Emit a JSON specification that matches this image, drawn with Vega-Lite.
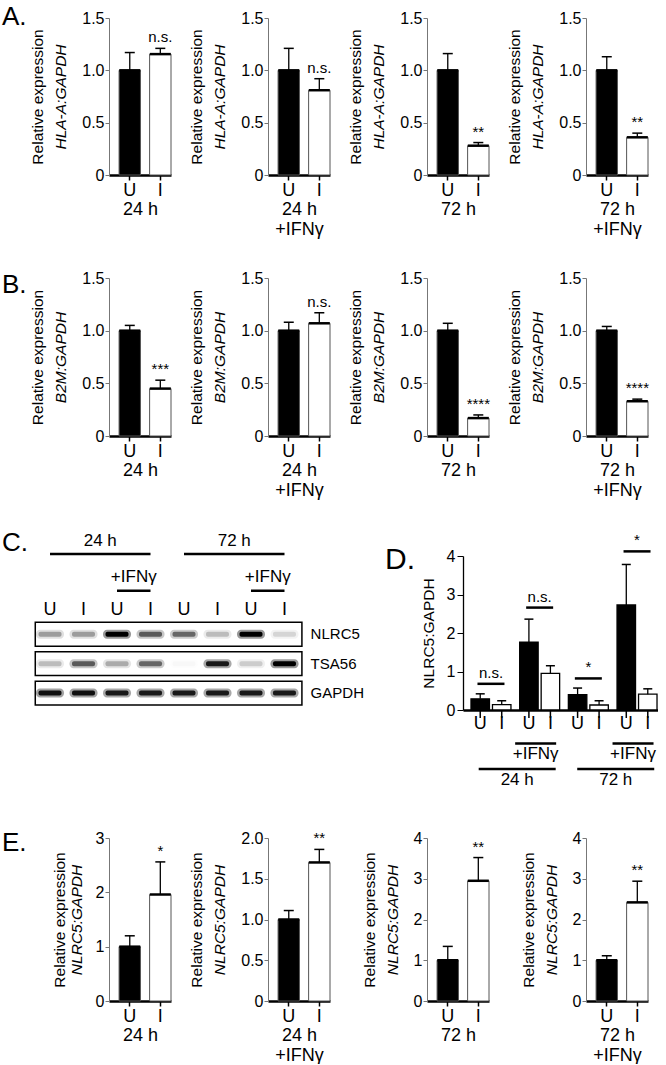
{
"$schema": "https://vega.github.io/schema/vega-lite/v6.json",
"padding": {"left": 2, "top": 4, "right": 0, "bottom": 0},
"autosize": {"type": "pad"},
"config": {
  "font": "Liberation Sans",
  "view": {"stroke": null},
  "tick": {"opacity": 1},
  "title": {"fontWeight": "normal", "color": "#000", "font": "Liberation Sans"},
  "axis": {"grid": false, "labelColor": "#000", "titleColor": "#000", "titleFontWeight": "normal", "labelFont": "Liberation Sans", "titleFont": "Liberation Sans"},
  "axisX": {"labelAngle": 0, "labelFontSize": 18, "titleFontSize": 18, "tickSize": 5, "tickColor": "#000", "tickWidth": 1.5, "domainColor": "#000", "domainWidth": 2.5, "labelPadding": 1, "titlePadding": 1, "titleLineHeight": 20},
  "axisY": {"titleFontSize": 15.5, "labelFontSize": 16, "tickSize": 4, "tickColor": "#777", "domainColor": "#777", "labelPadding": 1, "titlePadding": 13}
},
"datasets": {
  "lanes": [
    {"lane": 1, "c": "U", "t": "24 h", "ifn": ""},
    {"lane": 2, "c": "I", "t": "24 h", "ifn": ""},
    {"lane": 3, "c": "U", "t": "24 h", "ifn": "+IFNγ"},
    {"lane": 4, "c": "I", "t": "24 h", "ifn": "+IFNγ"},
    {"lane": 5, "c": "U", "t": "72 h", "ifn": ""},
    {"lane": 6, "c": "I", "t": "72 h", "ifn": ""},
    {"lane": 7, "c": "U", "t": "72 h", "ifn": "+IFNγ"},
    {"lane": 8, "c": "I", "t": "72 h", "ifn": "+IFNγ"}
  ],
  "bands": [
    {"p": "NLRC5", "lane": 1, "v": 0.3}, {"p": "NLRC5", "lane": 2, "v": 0.3}, {"p": "NLRC5", "lane": 3, "v": 1.0}, {"p": "NLRC5", "lane": 4, "v": 0.55},
    {"p": "NLRC5", "lane": 5, "v": 0.5}, {"p": "NLRC5", "lane": 6, "v": 0.2}, {"p": "NLRC5", "lane": 7, "v": 1.0}, {"p": "NLRC5", "lane": 8, "v": 0.12},
    {"p": "TSA56", "lane": 1, "v": 0.2}, {"p": "TSA56", "lane": 2, "v": 0.55}, {"p": "TSA56", "lane": 3, "v": 0.25}, {"p": "TSA56", "lane": 4, "v": 0.5},
    {"p": "TSA56", "lane": 5, "v": 0.02}, {"p": "TSA56", "lane": 6, "v": 0.85}, {"p": "TSA56", "lane": 7, "v": 0.15}, {"p": "TSA56", "lane": 8, "v": 1.0},
    {"p": "GAPDH", "lane": 1, "v": 0.9}, {"p": "GAPDH", "lane": 2, "v": 0.9}, {"p": "GAPDH", "lane": 3, "v": 0.85}, {"p": "GAPDH", "lane": 4, "v": 0.85},
    {"p": "GAPDH", "lane": 5, "v": 0.85}, {"p": "GAPDH", "lane": 6, "v": 0.85}, {"p": "GAPDH", "lane": 7, "v": 0.85}, {"p": "GAPDH", "lane": 8, "v": 0.85}
  ],
  "prots": [{"p": "NLRC5"}, {"p": "TSA56"}, {"p": "GAPDH"}]
},
"concat": [
{
 "width": 62, "height": 157,
 "title": {"text": "A.", "anchor": "start", "frame": "group", "fontSize": 26, "offset": 0, "dx": -107, "dy": 41, "baseline": "alphabetic"},
 "data": {"values": [{"c": "U", "m": 1.0, "hi": 1.17, "s": ""}, {"c": "I", "m": 1.155, "hi": 1.21, "s": "n.s."}]},
 "encoding": {"x": {"field": "c", "type": "nominal", "sort": ["U", "I"], "scale": {"paddingInner": 0.3, "paddingOuter": 0.165, "align": 1}, "axis": {"title": ["24 h"]}}},
 "layer": [
  {"mark": {"type": "bar", "stroke": "#555", "strokeWidth": 1}, "encoding": {"y": {"field": "m", "type": "quantitative", "scale": {"domain": [0, 1.5], "nice": false}, "axis": {"title": "HLA-A:GAPDH", "titleFontStyle": "italic", "values": [0, 0.5, 1, 1.5], "labelExpr": "datum.value == 0 ? '0' : format(datum.value, '.1f')"}}, "fill": {"field": "c", "type": "nominal", "scale": {"domain": ["U", "I"], "range": ["#000", "#fff"]}, "legend": null}}},
  {"mark": {"type": "rule", "color": "#000", "strokeWidth": 1.3}, "encoding": {"y": {"field": "m", "type": "quantitative", "axis": null}, "y2": {"field": "hi"}}},
  {"mark": {"type": "tick", "orient": "horizontal", "size": 10, "thickness": 1.5, "color": "#000"}, "encoding": {"y": {"field": "hi", "type": "quantitative", "axis": null}}},
  {"mark": {"type": "tick", "orient": "horizontal", "size": 21, "thickness": 2.5, "color": "#000"}, "encoding": {"y": {"field": "m", "type": "quantitative", "axis": null}}},
  {"mark": {"type": "text", "dy": -11, "fontSize": 15}, "encoding": {"y": {"field": "hi", "type": "quantitative", "axis": {"title": "Relative expression", "orient": "left", "titlePadding": 36, "values": [0, 0.5, 1, 1.5], "labelExpr": "datum.value == 0 ? '0' : format(datum.value, '.1f')", "labelOpacity": 0, "tickOpacity": 0, "domain": false}}, "text": {"field": "s"}}}
 ],
 "resolve": {"axis": {"y": "independent"}}
},
{
 "width": 62, "height": 157,
 "data": {"values": [{"c": "U", "m": 1.0, "hi": 1.21, "s": ""}, {"c": "I", "m": 0.81, "hi": 0.92, "s": "n.s."}]},
 "encoding": {"x": {"field": "c", "type": "nominal", "sort": ["U", "I"], "scale": {"paddingInner": 0.3, "paddingOuter": 0.165, "align": 1}, "axis": {"title": ["24 h", "+IFNγ"]}}},
 "layer": [
  {"mark": {"type": "bar", "stroke": "#555", "strokeWidth": 1}, "encoding": {"y": {"field": "m", "type": "quantitative", "scale": {"domain": [0, 1.5], "nice": false}, "axis": {"title": "HLA-A:GAPDH", "titleFontStyle": "italic", "values": [0, 0.5, 1, 1.5], "labelExpr": "datum.value == 0 ? '0' : format(datum.value, '.1f')"}}, "fill": {"field": "c", "type": "nominal", "scale": {"domain": ["U", "I"], "range": ["#000", "#fff"]}, "legend": null}}},
  {"mark": {"type": "rule", "color": "#000", "strokeWidth": 1.3}, "encoding": {"y": {"field": "m", "type": "quantitative", "axis": null}, "y2": {"field": "hi"}}},
  {"mark": {"type": "tick", "orient": "horizontal", "size": 10, "thickness": 1.5, "color": "#000"}, "encoding": {"y": {"field": "hi", "type": "quantitative", "axis": null}}},
  {"mark": {"type": "tick", "orient": "horizontal", "size": 21, "thickness": 2.5, "color": "#000"}, "encoding": {"y": {"field": "m", "type": "quantitative", "axis": null}}},
  {"mark": {"type": "text", "dy": -11, "fontSize": 15}, "encoding": {"y": {"field": "hi", "type": "quantitative", "axis": {"title": "Relative expression", "orient": "left", "titlePadding": 36, "values": [0, 0.5, 1, 1.5], "labelExpr": "datum.value == 0 ? '0' : format(datum.value, '.1f')", "labelOpacity": 0, "tickOpacity": 0, "domain": false}}, "text": {"field": "s"}}}
 ],
 "resolve": {"axis": {"y": "independent"}}
},
{
 "width": 62, "height": 157,
 "data": {"values": [{"c": "U", "m": 1.0, "hi": 1.16, "s": ""}, {"c": "I", "m": 0.28, "hi": 0.31, "s": "**"}]},
 "encoding": {"x": {"field": "c", "type": "nominal", "sort": ["U", "I"], "scale": {"paddingInner": 0.3, "paddingOuter": 0.165, "align": 1}, "axis": {"title": ["72 h"]}}},
 "layer": [
  {"mark": {"type": "bar", "stroke": "#555", "strokeWidth": 1}, "encoding": {"y": {"field": "m", "type": "quantitative", "scale": {"domain": [0, 1.5], "nice": false}, "axis": {"title": "HLA-A:GAPDH", "titleFontStyle": "italic", "values": [0, 0.5, 1, 1.5], "labelExpr": "datum.value == 0 ? '0' : format(datum.value, '.1f')"}}, "fill": {"field": "c", "type": "nominal", "scale": {"domain": ["U", "I"], "range": ["#000", "#fff"]}, "legend": null}}},
  {"mark": {"type": "rule", "color": "#000", "strokeWidth": 1.3}, "encoding": {"y": {"field": "m", "type": "quantitative", "axis": null}, "y2": {"field": "hi"}}},
  {"mark": {"type": "tick", "orient": "horizontal", "size": 10, "thickness": 1.5, "color": "#000"}, "encoding": {"y": {"field": "hi", "type": "quantitative", "axis": null}}},
  {"mark": {"type": "tick", "orient": "horizontal", "size": 21, "thickness": 2.5, "color": "#000"}, "encoding": {"y": {"field": "m", "type": "quantitative", "axis": null}}},
  {"mark": {"type": "text", "dy": -11, "fontSize": 15}, "encoding": {"y": {"field": "hi", "type": "quantitative", "axis": {"title": "Relative expression", "orient": "left", "titlePadding": 36, "values": [0, 0.5, 1, 1.5], "labelExpr": "datum.value == 0 ? '0' : format(datum.value, '.1f')", "labelOpacity": 0, "tickOpacity": 0, "domain": false}}, "text": {"field": "s"}}}
 ],
 "resolve": {"axis": {"y": "independent"}}
},
{
 "width": 62, "height": 157,
 "data": {"values": [{"c": "U", "m": 1.0, "hi": 1.13, "s": ""}, {"c": "I", "m": 0.36, "hi": 0.40, "s": "**"}]},
 "encoding": {"x": {"field": "c", "type": "nominal", "sort": ["U", "I"], "scale": {"paddingInner": 0.3, "paddingOuter": 0.165, "align": 1}, "axis": {"title": ["72 h", "+IFNγ"]}}},
 "layer": [
  {"mark": {"type": "bar", "stroke": "#555", "strokeWidth": 1}, "encoding": {"y": {"field": "m", "type": "quantitative", "scale": {"domain": [0, 1.5], "nice": false}, "axis": {"title": "HLA-A:GAPDH", "titleFontStyle": "italic", "values": [0, 0.5, 1, 1.5], "labelExpr": "datum.value == 0 ? '0' : format(datum.value, '.1f')"}}, "fill": {"field": "c", "type": "nominal", "scale": {"domain": ["U", "I"], "range": ["#000", "#fff"]}, "legend": null}}},
  {"mark": {"type": "rule", "color": "#000", "strokeWidth": 1.3}, "encoding": {"y": {"field": "m", "type": "quantitative", "axis": null}, "y2": {"field": "hi"}}},
  {"mark": {"type": "tick", "orient": "horizontal", "size": 10, "thickness": 1.5, "color": "#000"}, "encoding": {"y": {"field": "hi", "type": "quantitative", "axis": null}}},
  {"mark": {"type": "tick", "orient": "horizontal", "size": 21, "thickness": 2.5, "color": "#000"}, "encoding": {"y": {"field": "m", "type": "quantitative", "axis": null}}},
  {"mark": {"type": "text", "dy": -11, "fontSize": 15}, "encoding": {"y": {"field": "hi", "type": "quantitative", "axis": {"title": "Relative expression", "orient": "left", "titlePadding": 36, "values": [0, 0.5, 1, 1.5], "labelExpr": "datum.value == 0 ? '0' : format(datum.value, '.1f')", "labelOpacity": 0, "tickOpacity": 0, "domain": false}}, "text": {"field": "s"}}}
 ],
 "resolve": {"axis": {"y": "independent"}}
},
{
 "width": 62, "height": 158,
 "title": {"text": "B.", "anchor": "start", "frame": "group", "fontSize": 26, "offset": 0, "dx": -107, "dy": 49, "baseline": "alphabetic"},
 "data": {"values": [{"c": "U", "m": 1.0, "hi": 1.05, "s": ""}, {"c": "I", "m": 0.45, "hi": 0.53, "s": "***"}]},
 "encoding": {"x": {"field": "c", "type": "nominal", "sort": ["U", "I"], "scale": {"paddingInner": 0.3, "paddingOuter": 0.165, "align": 1}, "axis": {"title": ["24 h"]}}},
 "layer": [
  {"mark": {"type": "bar", "stroke": "#555", "strokeWidth": 1}, "encoding": {"y": {"field": "m", "type": "quantitative", "scale": {"domain": [0, 1.5], "nice": false}, "axis": {"title": "B2M:GAPDH", "titleFontStyle": "italic", "values": [0, 0.5, 1, 1.5], "labelExpr": "datum.value == 0 ? '0' : format(datum.value, '.1f')"}}, "fill": {"field": "c", "type": "nominal", "scale": {"domain": ["U", "I"], "range": ["#000", "#fff"]}, "legend": null}}},
  {"mark": {"type": "rule", "color": "#000", "strokeWidth": 1.3}, "encoding": {"y": {"field": "m", "type": "quantitative", "axis": null}, "y2": {"field": "hi"}}},
  {"mark": {"type": "tick", "orient": "horizontal", "size": 10, "thickness": 1.5, "color": "#000"}, "encoding": {"y": {"field": "hi", "type": "quantitative", "axis": null}}},
  {"mark": {"type": "tick", "orient": "horizontal", "size": 21, "thickness": 2.5, "color": "#000"}, "encoding": {"y": {"field": "m", "type": "quantitative", "axis": null}}},
  {"mark": {"type": "text", "dy": -11, "fontSize": 15}, "encoding": {"y": {"field": "hi", "type": "quantitative", "axis": {"title": "Relative expression", "orient": "left", "titlePadding": 36, "values": [0, 0.5, 1, 1.5], "labelExpr": "datum.value == 0 ? '0' : format(datum.value, '.1f')", "labelOpacity": 0, "tickOpacity": 0, "domain": false}}, "text": {"field": "s"}}}
 ],
 "resolve": {"axis": {"y": "independent"}}
},
{
 "width": 62, "height": 158,
 "data": {"values": [{"c": "U", "m": 1.0, "hi": 1.08, "s": ""}, {"c": "I", "m": 1.07, "hi": 1.17, "s": "n.s."}]},
 "encoding": {"x": {"field": "c", "type": "nominal", "sort": ["U", "I"], "scale": {"paddingInner": 0.3, "paddingOuter": 0.165, "align": 1}, "axis": {"title": ["24 h", "+IFNγ"]}}},
 "layer": [
  {"mark": {"type": "bar", "stroke": "#555", "strokeWidth": 1}, "encoding": {"y": {"field": "m", "type": "quantitative", "scale": {"domain": [0, 1.5], "nice": false}, "axis": {"title": "B2M:GAPDH", "titleFontStyle": "italic", "values": [0, 0.5, 1, 1.5], "labelExpr": "datum.value == 0 ? '0' : format(datum.value, '.1f')"}}, "fill": {"field": "c", "type": "nominal", "scale": {"domain": ["U", "I"], "range": ["#000", "#fff"]}, "legend": null}}},
  {"mark": {"type": "rule", "color": "#000", "strokeWidth": 1.3}, "encoding": {"y": {"field": "m", "type": "quantitative", "axis": null}, "y2": {"field": "hi"}}},
  {"mark": {"type": "tick", "orient": "horizontal", "size": 10, "thickness": 1.5, "color": "#000"}, "encoding": {"y": {"field": "hi", "type": "quantitative", "axis": null}}},
  {"mark": {"type": "tick", "orient": "horizontal", "size": 21, "thickness": 2.5, "color": "#000"}, "encoding": {"y": {"field": "m", "type": "quantitative", "axis": null}}},
  {"mark": {"type": "text", "dy": -11, "fontSize": 15}, "encoding": {"y": {"field": "hi", "type": "quantitative", "axis": {"title": "Relative expression", "orient": "left", "titlePadding": 36, "values": [0, 0.5, 1, 1.5], "labelExpr": "datum.value == 0 ? '0' : format(datum.value, '.1f')", "labelOpacity": 0, "tickOpacity": 0, "domain": false}}, "text": {"field": "s"}}}
 ],
 "resolve": {"axis": {"y": "independent"}}
},
{
 "width": 62, "height": 158,
 "data": {"values": [{"c": "U", "m": 1.0, "hi": 1.07, "s": ""}, {"c": "I", "m": 0.17, "hi": 0.20, "s": "****"}]},
 "encoding": {"x": {"field": "c", "type": "nominal", "sort": ["U", "I"], "scale": {"paddingInner": 0.3, "paddingOuter": 0.165, "align": 1}, "axis": {"title": ["72 h"]}}},
 "layer": [
  {"mark": {"type": "bar", "stroke": "#555", "strokeWidth": 1}, "encoding": {"y": {"field": "m", "type": "quantitative", "scale": {"domain": [0, 1.5], "nice": false}, "axis": {"title": "B2M:GAPDH", "titleFontStyle": "italic", "values": [0, 0.5, 1, 1.5], "labelExpr": "datum.value == 0 ? '0' : format(datum.value, '.1f')"}}, "fill": {"field": "c", "type": "nominal", "scale": {"domain": ["U", "I"], "range": ["#000", "#fff"]}, "legend": null}}},
  {"mark": {"type": "rule", "color": "#000", "strokeWidth": 1.3}, "encoding": {"y": {"field": "m", "type": "quantitative", "axis": null}, "y2": {"field": "hi"}}},
  {"mark": {"type": "tick", "orient": "horizontal", "size": 10, "thickness": 1.5, "color": "#000"}, "encoding": {"y": {"field": "hi", "type": "quantitative", "axis": null}}},
  {"mark": {"type": "tick", "orient": "horizontal", "size": 21, "thickness": 2.5, "color": "#000"}, "encoding": {"y": {"field": "m", "type": "quantitative", "axis": null}}},
  {"mark": {"type": "text", "dy": -11, "fontSize": 15}, "encoding": {"y": {"field": "hi", "type": "quantitative", "axis": {"title": "Relative expression", "orient": "left", "titlePadding": 36, "values": [0, 0.5, 1, 1.5], "labelExpr": "datum.value == 0 ? '0' : format(datum.value, '.1f')", "labelOpacity": 0, "tickOpacity": 0, "domain": false}}, "text": {"field": "s"}}}
 ],
 "resolve": {"axis": {"y": "independent"}}
},
{
 "width": 62, "height": 158,
 "data": {"values": [{"c": "U", "m": 1.0, "hi": 1.04, "s": ""}, {"c": "I", "m": 0.33, "hi": 0.35, "s": "****"}]},
 "encoding": {"x": {"field": "c", "type": "nominal", "sort": ["U", "I"], "scale": {"paddingInner": 0.3, "paddingOuter": 0.165, "align": 1}, "axis": {"title": ["72 h", "+IFNγ"]}}},
 "layer": [
  {"mark": {"type": "bar", "stroke": "#555", "strokeWidth": 1}, "encoding": {"y": {"field": "m", "type": "quantitative", "scale": {"domain": [0, 1.5], "nice": false}, "axis": {"title": "B2M:GAPDH", "titleFontStyle": "italic", "values": [0, 0.5, 1, 1.5], "labelExpr": "datum.value == 0 ? '0' : format(datum.value, '.1f')"}}, "fill": {"field": "c", "type": "nominal", "scale": {"domain": ["U", "I"], "range": ["#000", "#fff"]}, "legend": null}}},
  {"mark": {"type": "rule", "color": "#000", "strokeWidth": 1.3}, "encoding": {"y": {"field": "m", "type": "quantitative", "axis": null}, "y2": {"field": "hi"}}},
  {"mark": {"type": "tick", "orient": "horizontal", "size": 10, "thickness": 1.5, "color": "#000"}, "encoding": {"y": {"field": "hi", "type": "quantitative", "axis": null}}},
  {"mark": {"type": "tick", "orient": "horizontal", "size": 21, "thickness": 2.5, "color": "#000"}, "encoding": {"y": {"field": "m", "type": "quantitative", "axis": null}}},
  {"mark": {"type": "text", "dy": -11, "fontSize": 15}, "encoding": {"y": {"field": "hi", "type": "quantitative", "axis": {"title": "Relative expression", "orient": "left", "titlePadding": 36, "values": [0, 0.5, 1, 1.5], "labelExpr": "datum.value == 0 ? '0' : format(datum.value, '.1f')", "labelOpacity": 0, "tickOpacity": 0, "domain": false}}, "text": {"field": "s"}}}
 ],
 "resolve": {"axis": {"y": "independent"}}
},
{
 "width": 61, "height": 171,
 "title": {"text": "C.", "anchor": "start", "frame": "group", "fontSize": 26, "offset": 0, "dx": -107, "dy": 45.5, "baseline": "alphabetic"},
 "layer": [
  {"data": {"name": "prots"}, "mark": {"type": "rect", "fill": "#fff", "stroke": "#000", "strokeWidth": 1.5},
   "encoding": {"x": {"datum": 0.56, "type": "quantitative", "scale": {"domain": [2.761, 4.582], "nice": false, "zero": false}, "axis": null}, "x2": {"datum": 8.52},
     "y": {"field": "p", "type": "nominal", "scale": {"domain": ["time", "ifn", "lane", "NLRC5", "TSA56", "GAPDH"], "range": [-5, 166], "paddingInner": 0.19, "paddingOuter": 0}, "axis": null}}},
  {"data": {"name": "bands"}, "mark": {"type": "tick", "orient": "horizontal", "size": 28, "thickness": 9, "color": "#000", "cornerRadius": 4},
   "encoding": {"x": {"field": "lane", "type": "quantitative"}, "y": {"field": "p", "type": "nominal"}, "opacity": {"field": "v", "type": "quantitative", "scale": {"domain": [0, 1], "range": [0, 0.4]}, "legend": null}}},
  {"data": {"name": "bands"}, "mark": {"type": "tick", "orient": "horizontal", "size": 23, "thickness": 5, "color": "#000", "cornerRadius": 2},
   "encoding": {"x": {"field": "lane", "type": "quantitative"}, "y": {"field": "p", "type": "nominal"}, "opacity": {"field": "v", "type": "quantitative", "scale": {"domain": [0, 1], "range": [0, 1]}, "legend": null}}},
  {"data": {"name": "prots"}, "mark": {"type": "text", "align": "left", "baseline": "middle", "fontSize": 15},
   "encoding": {"x": {"datum": 8.78, "type": "quantitative"}, "y": {"field": "p", "type": "nominal"}, "text": {"field": "p"}}},
  {"data": {"name": "lanes"}, "mark": {"type": "text", "baseline": "middle", "fontSize": 18, "dy": 5},
   "encoding": {"x": {"field": "lane", "type": "quantitative"}, "y": {"datum": "lane", "type": "nominal"}, "text": {"field": "c"}}},
  {"data": {"name": "lanes"}, "mark": {"type": "text", "baseline": "middle", "fontSize": 17, "dy": -5},
   "encoding": {"x": {"aggregate": "mean", "field": "lane", "type": "quantitative"}, "y": {"datum": "time", "type": "nominal"}, "text": {"field": "t"}}},
  {"data": {"name": "lanes"}, "mark": {"type": "rule", "strokeWidth": 2.5, "color": "#000", "yOffset": 8},
   "encoding": {"x": {"aggregate": "min", "field": "lane", "type": "quantitative"}, "x2": {"aggregate": "max", "field": "lane"}, "y": {"datum": "time", "type": "nominal"}, "detail": {"field": "t"}}},
  {"data": {"name": "lanes"}, "transform": [{"filter": "datum.ifn == '+IFNγ'"}], "mark": {"type": "text", "baseline": "middle", "fontSize": 17, "dy": 1.5},
   "encoding": {"x": {"aggregate": "mean", "field": "lane", "type": "quantitative"}, "y": {"datum": "ifn", "type": "nominal"}, "text": {"field": "ifn"}, "detail": {"field": "t"}}},
  {"data": {"name": "lanes"}, "transform": [{"filter": "datum.ifn == '+IFNγ'"}], "mark": {"type": "rule", "strokeWidth": 2.5, "color": "#000", "yOffset": 15.5},
   "encoding": {"x": {"aggregate": "min", "field": "lane", "type": "quantitative"}, "x2": {"aggregate": "max", "field": "lane"}, "y": {"datum": "ifn", "type": "nominal"}, "detail": {"field": "t"}}}
 ],
 "resolve": {"scale": {"opacity": "independent"}}
},
{"width": 1, "height": 171, "data": {"values": []}, "mark": {"type": "point", "opacity": 0}},
{
 "width": 62, "height": 171,
 "title": {"text": "D.", "anchor": "start", "frame": "group", "fontSize": 30, "offset": 0, "dx": -42, "dy": 66, "baseline": "alphabetic"},
 "layer": [
  {
   "data": {"values": [
     {"g": "24 h", "c": "U", "m": 0.29, "hi": 0.42},
     {"g": "24 h", "c": "I", "m": 0.14, "hi": 0.24},
     {"g": "24 h +IFNγ", "c": "U", "m": 1.76, "hi": 2.36},
     {"g": "24 h +IFNγ", "c": "I", "m": 0.95, "hi": 1.15},
     {"g": "72 h", "c": "U", "m": 0.40, "hi": 0.57},
     {"g": "72 h", "c": "I", "m": 0.13, "hi": 0.24},
     {"g": "72 h +IFNγ", "c": "U", "m": 2.73, "hi": 3.78},
     {"g": "72 h +IFNγ", "c": "I", "m": 0.41, "hi": 0.55}
   ]},
   "encoding": {
     "x": {"field": "g", "type": "nominal", "scale": {"domain": ["24 h", "24 h +IFNγ", "72 h", "72 h +IFNγ"], "range": [36, 238], "paddingInner": 0.179, "paddingOuter": 0.164}, "axis": {"title": null, "labels": false, "ticks": false}},
     "xOffset": {"field": "c", "type": "nominal", "scale": {"domain": ["U", "I"], "paddingInner": 0.14, "paddingOuter": 0}}
   },
   "layer": [
     {"mark": {"type": "bar", "stroke": "#000", "strokeWidth": 1.3}, "encoding": {"y": {"field": "m", "type": "quantitative", "scale": {"domain": [0, 4], "nice": false, "range": [171, 17]}, "axis": {"title": "NLRC5:GAPDH", "offset": -36, "values": [0, 1, 2, 3, 4], "format": "d", "tickColor": "#000", "domainColor": "#000", "domainWidth": 1.3, "tickSize": 6, "labelPadding": 2, "titlePadding": 10}}, "fill": {"field": "c", "type": "nominal", "scale": {"domain": ["U", "I"], "range": ["#000", "#fff"]}, "legend": null}}},
     {"mark": {"type": "rule", "color": "#000", "strokeWidth": 1.3}, "encoding": {"y": {"field": "m", "type": "quantitative"}, "y2": {"field": "hi"}}},
     {"mark": {"type": "tick", "orient": "horizontal", "size": 9, "thickness": 1.5, "color": "#000"}, "encoding": {"y": {"field": "hi", "type": "quantitative"}}},
     {"mark": {"type": "tick", "orient": "vertical", "size": 8, "thickness": 1.5, "color": "#000", "yOffset": 4}, "encoding": {"y": {"datum": 0, "type": "quantitative"}}},
     {"mark": {"type": "text", "baseline": "middle", "fontSize": 18, "dy": 13.5}, "encoding": {"y": {"datum": 0, "type": "quantitative"}, "text": {"field": "c"}}}
   ]
  },
  {
   "data": {"values": [
     {"g": "24 h", "lvl": 0.68, "s": "n.s."},
     {"g": "24 h +IFNγ", "lvl": 2.66, "s": "n.s."},
     {"g": "72 h", "lvl": 0.82, "s": "*"},
     {"g": "72 h +IFNγ", "lvl": 4.12, "s": "*"}
   ]},
   "encoding": {"x": {"field": "g", "type": "nominal", "scale": {"domain": ["24 h", "24 h +IFNγ", "72 h", "72 h +IFNγ"], "range": [36, 238], "paddingInner": 0.179, "paddingOuter": 0.164}, "axis": null}},
   "layer": [
     {"mark": {"type": "tick", "orient": "horizontal", "size": 27, "thickness": 2.5, "color": "#000"}, "encoding": {"y": {"field": "lvl", "type": "quantitative"}}},
     {"mark": {"type": "text", "fontSize": 15, "dy": -11}, "encoding": {"y": {"field": "lvl", "type": "quantitative"}, "text": {"field": "s"}}}
   ]
  },
  {
   "data": {"values": [{"g": "24 h +IFNγ", "ifn": "+IFNγ"}, {"g": "72 h +IFNγ", "ifn": "+IFNγ"}]},
   "encoding": {"x": {"field": "g", "type": "nominal", "scale": {"domain": ["24 h", "24 h +IFNγ", "72 h", "72 h +IFNγ"], "range": [36, 238], "paddingInner": 0.179, "paddingOuter": 0.164}, "axis": null}},
   "layer": [
     {"mark": {"type": "tick", "orient": "horizontal", "size": 41, "thickness": 2.5, "color": "#000", "yOffset": 33.5, "xOffset": -4}, "encoding": {"y": {"datum": 0, "type": "quantitative"}}},
     {"mark": {"type": "text", "baseline": "middle", "fontSize": 17, "dy": 43.5, "dx": -4}, "encoding": {"y": {"datum": 0, "type": "quantitative"}, "text": {"field": "ifn"}}}
   ]
  },
  {
   "data": {"values": [{"t": "24 h"}, {"t": "72 h"}]},
   "encoding": {"x": {"field": "t", "type": "nominal", "scale": {"domain": ["24 h", "72 h"], "range": [36, 238], "paddingInner": 0, "paddingOuter": 0.025, "align": 1}, "axis": null}},
   "layer": [
     {"mark": {"type": "tick", "orient": "horizontal", "size": 77, "thickness": 2.5, "color": "#000", "yOffset": 59}, "encoding": {"y": {"datum": 0, "type": "quantitative"}}},
     {"mark": {"type": "text", "baseline": "middle", "fontSize": 17, "dy": 70}, "encoding": {"y": {"datum": 0, "type": "quantitative"}, "text": {"field": "t"}}}
   ]
  }
 ],
 "resolve": {"scale": {"x": "independent"}, "axis": {"x": "independent"}}
},
{"width": 1, "height": 171, "data": {"values": []}, "mark": {"type": "point", "opacity": 0}},
{
 "width": 62, "height": 188,
 "title": {"text": "E.", "anchor": "start", "frame": "group", "fontSize": 26, "offset": 0, "dx": -107, "dy": 63.5, "baseline": "alphabetic"},
 "data": {"values": [{"c": "U", "m": 1.0, "hi": 1.2, "s": ""}, {"c": "I", "m": 1.96, "hi": 2.56, "s": "*"}]},
 "encoding": {"x": {"field": "c", "type": "nominal", "sort": ["U", "I"], "scale": {"paddingInner": 0.3, "paddingOuter": 0.165, "align": 1}, "axis": {"title": ["24 h"]}}},
 "layer": [
  {"mark": {"type": "bar", "stroke": "#555", "strokeWidth": 1}, "encoding": {"y": {"field": "m", "type": "quantitative", "scale": {"domain": [0, 3], "nice": false, "range": [188, 25]}, "axis": {"title": "NLRC5:GAPDH", "titleFontStyle": "italic", "titlePadding": 11, "values": [0, 1, 2, 3], "format": "d"}}, "fill": {"field": "c", "type": "nominal", "scale": {"domain": ["U", "I"], "range": ["#000", "#fff"]}, "legend": null}}},
  {"mark": {"type": "rule", "color": "#000", "strokeWidth": 1.3}, "encoding": {"y": {"field": "m", "type": "quantitative", "axis": null}, "y2": {"field": "hi"}}},
  {"mark": {"type": "tick", "orient": "horizontal", "size": 10, "thickness": 1.5, "color": "#000"}, "encoding": {"y": {"field": "hi", "type": "quantitative", "axis": null}}},
  {"mark": {"type": "tick", "orient": "horizontal", "size": 21, "thickness": 2.5, "color": "#000"}, "encoding": {"y": {"field": "m", "type": "quantitative", "axis": null}}},
  {"mark": {"type": "text", "dy": -11, "fontSize": 15}, "encoding": {"y": {"field": "hi", "type": "quantitative", "axis": {"title": "Relative expression", "orient": "left", "titlePadding": 28, "values": [0, 1, 2, 3], "format": "d", "labelOpacity": 0, "tickOpacity": 0, "domain": false}}, "text": {"field": "s"}}}
 ],
 "resolve": {"axis": {"y": "independent"}}
},
{
 "width": 62, "height": 188,
 "data": {"values": [{"c": "U", "m": 1.0, "hi": 1.11, "s": ""}, {"c": "I", "m": 1.70, "hi": 1.86, "s": "**"}]},
 "encoding": {"x": {"field": "c", "type": "nominal", "sort": ["U", "I"], "scale": {"paddingInner": 0.3, "paddingOuter": 0.165, "align": 1}, "axis": {"title": ["24 h", "+IFNγ"]}}},
 "layer": [
  {"mark": {"type": "bar", "stroke": "#555", "strokeWidth": 1}, "encoding": {"y": {"field": "m", "type": "quantitative", "scale": {"domain": [0, 2], "nice": false, "range": [188, 25]}, "axis": {"title": "NLRC5:GAPDH", "titleFontStyle": "italic", "values": [0, 0.5, 1, 1.5, 2], "labelExpr": "datum.value == 0 ? '0' : format(datum.value, '.1f')"}}, "fill": {"field": "c", "type": "nominal", "scale": {"domain": ["U", "I"], "range": ["#000", "#fff"]}, "legend": null}}},
  {"mark": {"type": "rule", "color": "#000", "strokeWidth": 1.3}, "encoding": {"y": {"field": "m", "type": "quantitative", "axis": null}, "y2": {"field": "hi"}}},
  {"mark": {"type": "tick", "orient": "horizontal", "size": 10, "thickness": 1.5, "color": "#000"}, "encoding": {"y": {"field": "hi", "type": "quantitative", "axis": null}}},
  {"mark": {"type": "tick", "orient": "horizontal", "size": 21, "thickness": 2.5, "color": "#000"}, "encoding": {"y": {"field": "m", "type": "quantitative", "axis": null}}},
  {"mark": {"type": "text", "dy": -11, "fontSize": 15}, "encoding": {"y": {"field": "hi", "type": "quantitative", "axis": {"title": "Relative expression", "orient": "left", "titlePadding": 36, "values": [0, 0.5, 1, 1.5, 2], "labelExpr": "datum.value == 0 ? '0' : format(datum.value, '.1f')", "labelOpacity": 0, "tickOpacity": 0, "domain": false}}, "text": {"field": "s"}}}
 ],
 "resolve": {"axis": {"y": "independent"}}
},
{
 "width": 62, "height": 188,
 "data": {"values": [{"c": "U", "m": 1.0, "hi": 1.34, "s": ""}, {"c": "I", "m": 2.95, "hi": 3.52, "s": "**"}]},
 "encoding": {"x": {"field": "c", "type": "nominal", "sort": ["U", "I"], "scale": {"paddingInner": 0.3, "paddingOuter": 0.165, "align": 1}, "axis": {"title": ["72 h"]}}},
 "layer": [
  {"mark": {"type": "bar", "stroke": "#555", "strokeWidth": 1}, "encoding": {"y": {"field": "m", "type": "quantitative", "scale": {"domain": [0, 4], "nice": false, "range": [188, 25]}, "axis": {"title": "NLRC5:GAPDH", "titleFontStyle": "italic", "values": [0, 1, 2, 3, 4], "format": "d"}}, "fill": {"field": "c", "type": "nominal", "scale": {"domain": ["U", "I"], "range": ["#000", "#fff"]}, "legend": null}}},
  {"mark": {"type": "rule", "color": "#000", "strokeWidth": 1.3}, "encoding": {"y": {"field": "m", "type": "quantitative", "axis": null}, "y2": {"field": "hi"}}},
  {"mark": {"type": "tick", "orient": "horizontal", "size": 10, "thickness": 1.5, "color": "#000"}, "encoding": {"y": {"field": "hi", "type": "quantitative", "axis": null}}},
  {"mark": {"type": "tick", "orient": "horizontal", "size": 21, "thickness": 2.5, "color": "#000"}, "encoding": {"y": {"field": "m", "type": "quantitative", "axis": null}}},
  {"mark": {"type": "text", "dy": -11, "fontSize": 15}, "encoding": {"y": {"field": "hi", "type": "quantitative", "axis": {"title": "Relative expression", "orient": "left", "titlePadding": 36, "values": [0, 1, 2, 3, 4], "format": "d", "labelOpacity": 0, "tickOpacity": 0, "domain": false}}, "text": {"field": "s"}}}
 ],
 "resolve": {"axis": {"y": "independent"}}
},
{
 "width": 62, "height": 188,
 "data": {"values": [{"c": "U", "m": 1.0, "hi": 1.11, "s": ""}, {"c": "I", "m": 2.42, "hi": 2.94, "s": "**"}]},
 "encoding": {"x": {"field": "c", "type": "nominal", "sort": ["U", "I"], "scale": {"paddingInner": 0.3, "paddingOuter": 0.165, "align": 1}, "axis": {"title": ["72 h", "+IFNγ"]}}},
 "layer": [
  {"mark": {"type": "bar", "stroke": "#555", "strokeWidth": 1}, "encoding": {"y": {"field": "m", "type": "quantitative", "scale": {"domain": [0, 4], "nice": false, "range": [188, 25]}, "axis": {"title": "NLRC5:GAPDH", "titleFontStyle": "italic", "values": [0, 1, 2, 3, 4], "format": "d"}}, "fill": {"field": "c", "type": "nominal", "scale": {"domain": ["U", "I"], "range": ["#000", "#fff"]}, "legend": null}}},
  {"mark": {"type": "rule", "color": "#000", "strokeWidth": 1.3}, "encoding": {"y": {"field": "m", "type": "quantitative", "axis": null}, "y2": {"field": "hi"}}},
  {"mark": {"type": "tick", "orient": "horizontal", "size": 10, "thickness": 1.5, "color": "#000"}, "encoding": {"y": {"field": "hi", "type": "quantitative", "axis": null}}},
  {"mark": {"type": "tick", "orient": "horizontal", "size": 21, "thickness": 2.5, "color": "#000"}, "encoding": {"y": {"field": "m", "type": "quantitative", "axis": null}}},
  {"mark": {"type": "text", "dy": -11, "fontSize": 15}, "encoding": {"y": {"field": "hi", "type": "quantitative", "axis": {"title": "Relative expression", "orient": "left", "titlePadding": 36, "values": [0, 1, 2, 3, 4], "format": "d", "labelOpacity": 0, "tickOpacity": 0, "domain": false}}, "text": {"field": "s"}}}
 ],
 "resolve": {"axis": {"y": "independent"}}
}
],
"columns": 4,
"align": "each",
"bounds": "flush",
"spacing": {"row": 103, "column": 97}
}
